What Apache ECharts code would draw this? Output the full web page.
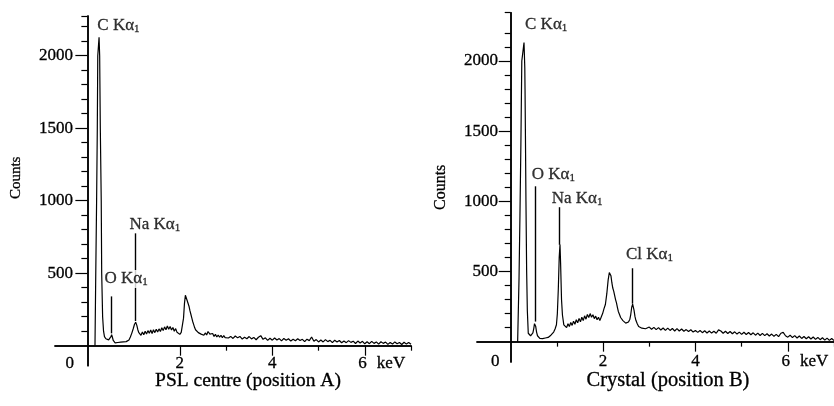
<!DOCTYPE html>
<html><head><meta charset="utf-8">
<script src="https://cdn.jsdelivr.net/npm/echarts@6/dist/echarts.min.js"></script>
<style>html,body{margin:0;padding:0;background:#fff}#c{width:834px;height:406px}</style>
</head><body><div id="c"></div>
<script>
const FONT = "'Liberation Serif','Times New Roman',serif";
const INK = {color:'#000', textBorderColor:'#000', textBorderWidth:0.3};

// ---- Spectrum A : PSL centre (position A) ----
const energyA = [0.165,0.18,0.20,0.215,0.225,0.253,0.266,0.28,0.30,0.31,0.33,0.35,0.37,0.40,0.43,0.46,0.49,0.51,0.525,0.54,0.56,0.58,
 0.60,0.63,0.66,0.69,0.72,0.75,0.78,0.81,0.84,0.87,0.90,0.93,0.96,0.99,1.02,1.045,1.07,1.09,1.11,1.13,1.16,1.19,1.22,1.25,1.28,1.31,1.34,1.37,1.40,
 1.43,1.46,1.49,1.52,1.55,1.58,1.61,1.64,1.67,1.70,1.73,1.76,1.79,1.82,1.85,1.88,1.91,1.94,1.97,2.00,2.03,2.06,2.08,2.10,2.12,2.14,2.16,2.18,2.20,
 2.22,2.24,2.26,2.28,2.30,2.32,2.34,2.37,2.40,2.43,2.46,2.49,2.52,2.55,2.58,2.61,2.63,2.65,2.68,2.71,2.74,2.77,2.80,2.83,2.86,2.89,2.92,2.95,2.98,
 3.00,3.05,3.10,3.15,3.20,3.25,3.30,3.35,3.40,3.45,3.50,3.55,3.60,3.65,3.70,3.75,3.80,3.85,3.90,3.95,4.00,4.05,4.10,4.15,4.20,4.25,4.30,4.35,4.40,
 4.45,4.50,4.55,4.60,4.65,4.70,4.75,4.80,4.85,4.90,4.95,5.00,5.05,5.10,5.15,5.20,5.25,5.30,5.35,5.40,5.45,5.50,5.55,5.60,5.65,5.70,5.75,5.80,5.85,
 5.90,5.95,6.00,6.05,6.10,6.15,6.20,6.25,6.30,6.35,6.40,6.45,6.50,6.55,6.60,6.65,6.70,6.75,6.80,6.85,6.90,6.95,7.00];
const countsA = [0,450,1000,1500,2000,2127,2000,1500,1000,500,200,100,62,48,42,40,48,62,76,60,36,24,
 20,10,22,12,24,14,26,16,28,30,40,60,85,115,148,162,140,112,92,82,72,94,76,100,80,104,86,108,84,
 110,90,114,94,116,98,124,104,130,110,136,114,132,108,126,100,118,92,92,78,92,150,190,290,348,335,310,300,270,
 240,215,190,165,145,125,110,98,90,98,80,92,72,88,74,98,102,80,70,84,64,78,60,74,58,72,55,70,56,
 68,53,64,50,67,54,64,46,58,48,63,47,57,41,58,69,44,54,37,51,38,53,39,49,33,50,38,48,32,
 44,34,48,36,44,28,45,35,60,30,42,26,39,26,42,28,37,21,38,26,36,20,32,21,35,23,31,15,32,
 19,30,13,27,14,30,16,26,11,27,16,25,9,22,11,26,14,22,8,24,11,22,10];

// ---- Spectrum B : Crystal (position B) ----
const energyB = [0.15,0.18,0.20,0.22,0.24,0.288,0.305,0.31,0.318,0.33,0.345,0.36,0.38,0.40,0.43,0.46,0.48,0.50,0.515,0.526,0.54,0.56,0.58,
 0.60,0.63,0.66,0.69,0.72,0.75,0.78,0.81,0.84,0.87,0.90,0.93,0.96,0.99,1.01,1.03,1.05,1.067,1.08,1.10,1.12,1.15,1.18,1.21,1.24,1.27,1.30,1.33,1.36,
 1.39,1.42,1.45,1.48,1.51,1.54,1.57,1.60,1.63,1.66,1.69,1.72,1.75,1.78,1.81,1.84,1.87,1.90,1.93,1.96,1.99,2.02,2.05,2.08,2.11,2.135,2.15,2.17,2.19,
 2.21,2.23,2.25,2.27,2.29,2.31,2.33,2.36,2.38,2.40,2.43,2.46,2.49,2.52,2.55,2.58,2.60,2.62,2.64,2.655,2.67,2.69,2.71,2.74,2.77,2.80,2.84,2.88,2.92,2.96,
 3.00,3.05,3.10,3.15,3.20,3.25,3.30,3.35,3.40,3.45,3.50,3.55,3.60,3.65,3.70,3.75,3.80,3.85,3.90,3.95,4.00,4.05,4.10,4.15,4.20,4.25,4.30,4.35,4.40,
 4.45,4.50,4.55,4.60,4.65,4.70,4.75,4.80,4.85,4.90,4.95,5.00,5.05,5.10,5.15,5.20,5.25,5.30,5.35,5.40,5.45,5.50,5.55,5.60,5.65,5.70,5.75,5.80,5.85,
 5.90,5.95,6.00,6.05,6.10,6.15,6.20,6.25,6.30,6.35,6.40,6.45,6.50,6.55,6.60,6.65,6.70,6.75,6.80,6.85,6.90,6.95,7.00];
const countsB = [0,450,900,1400,2000,2131,1950,1800,1500,1000,500,220,60,48,42,46,62,95,128,140,110,68,42,
 38,24,36,22,34,26,32,30,40,46,58,68,90,120,200,370,600,692,560,300,190,120,108,100,128,108,136,116,146,
 124,156,134,166,142,174,150,184,160,194,172,200,174,192,164,182,156,174,150,176,200,235,265,340,440,492,500,470,420,
 382,360,330,300,276,245,215,190,172,165,150,140,132,130,140,160,195,245,268,262,225,180,152,128,108,110,96,108,92,106,
 104,88,102,86,100,83,97,80,96,80,94,76,93,76,90,74,86,72,85,68,80,66,79,64,78,62,76,61,74,
 60,84,76,60,74,58,72,56,70,54,68,52,67,51,65,49,63,46,61,44,59,43,56,40,54,38,52,36,60,
 66,42,32,46,29,43,26,40,23,37,21,35,19,33,16,30,14,28,11,25,9,22,8];

// ---- axis ticks / labels ----
const yLabelValues = [500,1000,1500,2000];
const yMinorValues = [100,200,300,400,600,700,800,900,1100,1200,1300,1400,1600,1700,1800,1900,2100,2200];
const xLabelValues = [0,2,4,6];
const xMajorTicks = [2,4,6];
const xMinorTicksA = [3,5,7];
const xMinorTicksB = [1,3,5,7];
const axisRangeA = {xmin:-0.7, xmax:7.0, ymin:-138, ymax:2274};
const axisRangeB = {xmin:-0.73, xmax:7.0, ymin:-145, ymax:2344};

// ---- peak annotations (data units) ----
const peakNamesA = ['C Kα','O Kα','Na Kα'];
const peakLabelEA = [0.216,0.37,0.91];
const peakLabelCA = [2205,460,836];
const markerEA = [0.52,1.04];
const markerTopA = [340,775];
const markerBottomA = [85,170];

const peakNamesB = ['C Kα','O Kα','Na Kα','Cl Kα'];
const peakLabelEB = [0.31,0.455,0.887,2.496];
const peakLabelCB = [2257,1188,1022,618];
const markerEB = [0.526,1.052,2.64];
const markerTopB = [1107,958,523];
const markerBottomB = [143,690,270];

const titleA = 'PSL centre (position A)';
const titleB = 'Crystal (position B)';

function pairs(xs, ys){ return xs.map((x,i)=>[x, ys[i]]); }
function ink(o){ return Object.assign({}, INK, o); }

function xAxes(gi, r, minorTicks, zeroPad, lblMargin){
  const common = {gridIndex:gi, type:'value', min:r.xmin, max:r.xmax, position:'bottom', splitLine:{show:false},
    axisLine:{show:true, onZero:true, lineStyle:{color:'#000', width:1.5}}};
  return [
    Object.assign({}, common, {
      axisTick:{show:true, customValues:xMajorTicks, length:10, lineStyle:{color:'#000', width:1.2}},
      axisLabel:ink({show:true, customValues:xLabelValues, margin:lblMargin, fontFamily:FONT, fontSize:17,
        formatter:function(v){ if(v===0) return '{z|0}'; if(v===6) return '{a|6}{k|keV}'; return String(v); },
        rich:{ z:ink({fontFamily:FONT,fontSize:17,padding:[0,zeroPad,0,0]}),
               a:ink({fontFamily:FONT,fontSize:17,padding:[0,0,0,34]}),
               k:ink({fontFamily:FONT,fontSize:17,padding:[0,0,0,10]}) }})
    }),
    Object.assign({}, common, {
      axisTick:{show:true, customValues:minorTicks, length:5, lineStyle:{color:'#000', width:1.2}},
      axisLabel:{show:false}
    })
  ];
}
function yAxes(gi, r, nameGap, namePad, lblMargin, nameSize){
  const common = {gridIndex:gi, type:'value', min:r.ymin, max:r.ymax, position:'left', splitLine:{show:false},
    axisLine:{show:true, onZero:true, lineStyle:{color:'#000', width:1.5}}};
  return [
    Object.assign({}, common, {
      name:'Counts', nameLocation:'middle', nameGap:nameGap, nameRotate:90,
      nameTextStyle:ink({fontFamily:FONT, fontSize:nameSize, padding:namePad}),
      axisTick:{show:true, customValues:yLabelValues, length:12, lineStyle:{color:'#000', width:1.2}},
      axisLabel:ink({show:true, customValues:yLabelValues, margin:lblMargin, fontFamily:FONT, fontSize:17,
        formatter:function(v){ return String(v); }})
    }),
    Object.assign({}, common, {
      axisTick:{show:true, customValues:yMinorValues.concat([r.ymax]), length:6, lineStyle:{color:'#000', width:1.2}},
      axisLabel:{show:false}
    })
  ];
}

function annotSeries(xi, yi, names, le, lc, me, mt, mb, whiteIdx){
  return {
    type:'scatter', xAxisIndex:xi, yAxisIndex:yi, symbolSize:0, z:5, silent:true,
    data: names.map((n,i)=>({value:[le[i], lc[i]], name:n,
      label:{backgroundColor: i===whiteIdx ? '#fff' : 'transparent'}})),
    label:{show:true, position:[0,0], align:'left', verticalAlign:'middle',
      formatter:function(p){ return '{m|'+p.name+'}{s|1}'; },
      rich:{ m:ink({fontFamily:FONT, fontSize:17, lineHeight:18}),
             s:ink({fontFamily:FONT, fontSize:11, lineHeight:10, verticalAlign:'bottom'}) }},
    markLine:{silent:true, symbol:['none','none'], animation:false, label:{show:false},
      lineStyle:{color:'#000', width:1.4, type:'solid'},
      data: me.map((e,i)=>[{coord:[e, mt[i]]},{coord:[e, mb[i]]}])}
  };
}

const option = {
  animation:false,
  backgroundColor:'#fff',
  title:[
    {text:titleA, left:243, top:366, textAlign:'center', textStyle:ink({fontFamily:FONT, fontSize:19.5, fontWeight:'normal'})},
    {text:titleB, left:663, top:365, textAlign:'center', textStyle:ink({fontFamily:FONT, fontSize:20.5, fontWeight:'normal'})}
  ],
  grid:[
    {left:55, width:356, top:16, height:349.7, containLabel:false, outerBoundsMode:'none'},
    {left:477, width:357, top:12.7, height:349.3, containLabel:false, outerBoundsMode:'none'}
  ],
  xAxis: xAxes(0, axisRangeA, xMinorTicksA, 35, -11).concat(xAxes(1, axisRangeB, xMinorTicksB, 31, -9)),
  yAxis: yAxes(0, axisRangeA, 31, [0,0,0,26], -18, 15).concat(yAxes(1, axisRangeB, 28, [0,0,0,0], -21, 16)),
  series:[
    {type:'line', xAxisIndex:0, yAxisIndex:0, data:pairs(energyA, countsA), showSymbol:false, symbol:'none',
      lineStyle:{color:'#000', width:1.2}, z:3, silent:true},
    annotSeries(0, 0, peakNamesA, peakLabelEA, peakLabelCA, markerEA, markerTopA, markerBottomA, 1),
    {type:'line', xAxisIndex:2, yAxisIndex:2, data:pairs(energyB, countsB), showSymbol:false, symbol:'none',
      lineStyle:{color:'#000', width:1.2}, z:3, silent:true},
    annotSeries(2, 2, peakNamesB, peakLabelEB, peakLabelCB, markerEB, markerTopB, markerBottomB, -1)
  ]
};
const chart = echarts.init(document.getElementById('c'));
chart.setOption(option);
</script></body></html>
